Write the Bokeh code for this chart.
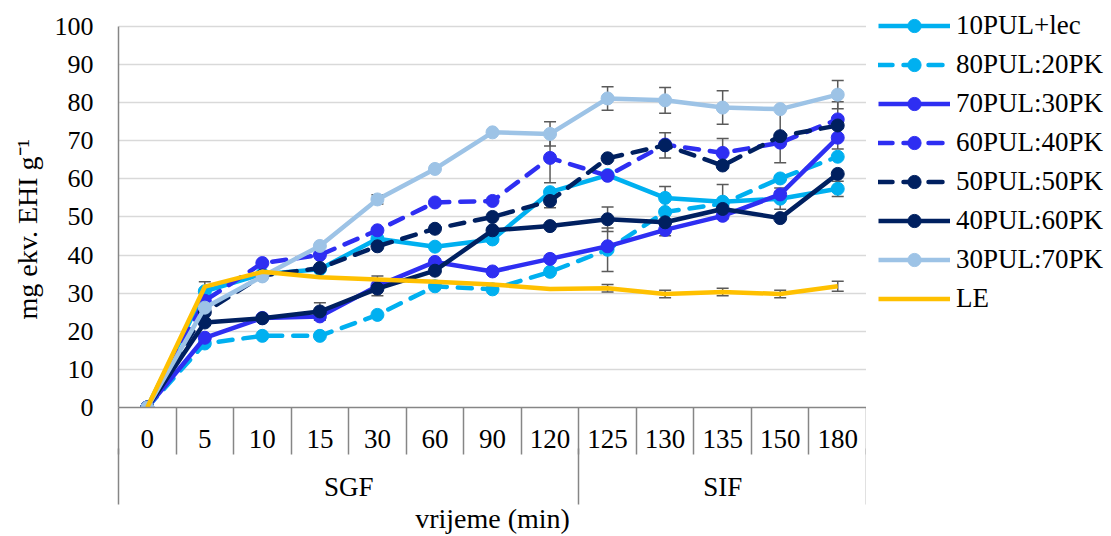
from bokeh.plotting import figure
from bokeh.layouts import row
from bokeh.models import (Range1d, LinearAxis, FixedTicker, Legend, LegendItem,
                          Whisker, TeeHead, ColumnDataSource, Grid, Title)
from bokeh.embed import file_html
from bokeh.resources import INLINE

# ---------------- data ----------------
categories = ["0", "5", "10", "15", "30", "60", "90", "120", "125", "130", "135", "150", "180"]
groups = ["SGF", "SIF"]
group_sizes = [8, 5]

series_names = ["10PUL+lec", "80PUL:20PK", "70PUL:30PK", "60PUL:40PK",
                "50PUL:50PK", "40PUL:60PK", "30PUL:70PK", "LE"]

v_10PUL_lec = [0, 30.5, 35.0, 36.3, 44.3, 42.2, 44.1, 56.5, 61.0, 55.0, 54.0, 54.8, 57.4]
v_80PUL_20PK = [0, 16.8, 18.8, 18.8, 24.3, 31.8, 31.0, 35.6, 41.4, 51.3, 53.5, 60.1, 65.8]
v_70PUL_30PK = [0, 18.3, 23.5, 23.9, 31.9, 38.2, 35.7, 39.0, 42.3, 46.6, 50.3, 55.9, 70.8]
v_60PUL_40PK = [0, 28.0, 37.9, 40.0, 46.5, 53.8, 54.2, 65.5, 60.8, 69.0, 66.8, 69.5, 75.6]
v_50PUL_50PK = [0, 25.0, 34.6, 36.6, 42.3, 46.9, 50.0, 54.2, 65.4, 68.8, 63.5, 71.2, 74.0]
v_40PUL_60PK = [0, 22.3, 23.4, 25.2, 31.2, 35.9, 46.5, 47.6, 49.4, 48.6, 52.1, 49.7, 61.3]
v_30PUL_70PK = [0, 26.2, 34.4, 42.4, 54.6, 62.6, 72.2, 71.8, 81.1, 80.6, 78.7, 78.3, 82.1]
v_LE = [0, 31.7, 35.6, 34.2, 33.6, 33.0, 32.3, 31.1, 31.3, 29.8, 30.3, 29.8, 31.8]

e_10PUL_lec = [0, 0, 0, 0, 0, 0, 0, 0, 0, 3.0, 4.5, 2.8, 2.0]
e_80PUL_20PK = [0, 0, 0, 0, 0, 0, 0, 0, 5.7, 0, 0, 0, 0]
e_70PUL_30PK = [0, 0, 0, 0, 2.6, 0, 0, 0, 0, 1.5, 0, 0, 0]
e_60PUL_40PK = [0, 0, 0, 0, 0, 0, 0, 6.5, 0, 0, 3.8, 0, 0]
e_50PUL_50PK = [0, 0, 0, 0, 0, 0, 0, 1.8, 0, 3.3, 0, 7.0, 6.2]
e_40PUL_60PK = [0, 0, 0, 2.3, 0, 0, 0, 0, 3.2, 0, 0, 0, 0]
e_30PUL_70PK = [0, 0, 0, 0, 1.2, 0, 0, 3.2, 3.1, 3.4, 4.4, 0, 3.7]
e_LE = [0, 1.3, 0, 0, 0, 0, 0, 0, 1.0, 1.0, 1.0, 1.0, 1.3]

y_ticks = [0, 10, 20, 30, 40, 50, 60, 70, 80, 90, 100]
x_title = "vrijeme (min)"
y_title = "mg ekv. EHI g\u207b\u00b9"

# ---------------- styles ----------------
values = [v_10PUL_lec, v_80PUL_20PK, v_70PUL_30PK, v_60PUL_40PK,
          v_50PUL_50PK, v_40PUL_60PK, v_30PUL_70PK, v_LE]
errors = [e_10PUL_lec, e_80PUL_20PK, e_70PUL_30PK, e_60PUL_40PK,
          e_50PUL_50PK, e_40PUL_60PK, e_30PUL_70PK, e_LE]
colors = ["#00B0F0", "#00B0F0", "#2E2EF2", "#2E2EF2",
          "#002060", "#002060", "#9DC3E6", "#FFC000"]
dashes = ["solid", "14 11", "solid", "14 11", "14 11", "solid", "solid", "solid"]
markers = [True, True, True, True, True, True, True, False]

FONT = "Liberation Serif"
AXIS_GRAY = "#868686"
LW = 4.5
MS = 13

n = len(categories)
xs = [i + 0.5 for i in range(n)]

p = figure(width=866, height=536, x_range=Range1d(0, n), y_range=Range1d(0, 106.8),
           output_backend="svg", toolbar_location=None,
           x_axis_type=None, y_axis_type=None,
           min_border_left=116, min_border_right=0, min_border_top=0, min_border_bottom=128)
p.outline_line_color = None
p.background_fill_color = "white"

# grid
grid = Grid(dimension=1, ticker=FixedTicker(ticks=y_ticks[1:]),
            grid_line_color="#D9D9D9", grid_line_width=1.5)
p.add_layout(grid)

# y axis
yaxis = LinearAxis(ticker=FixedTicker(ticks=y_ticks), bounds=(0, 100))
yaxis.axis_line_color = AXIS_GRAY
yaxis.axis_line_width = 1.5
yaxis.major_tick_out = 0
yaxis.major_tick_in = 0
yaxis.minor_tick_line_color = None
yaxis.major_label_standoff = 25
yaxis.major_label_text_font = FONT
yaxis.major_label_text_font_size = "26px"
yaxis.major_label_text_color = "black"
p.add_layout(yaxis, "left")

# y axis title (placed along the axis like the reference)
p.add_layout(Title(text=y_title, align="left", offset=88, standoff=18,
                   text_font=FONT, text_font_size="28px", text_font_style="normal",
                   text_color="black"), "left")

# x axis: categories
bounds_ticks = list(range(n + 1))
xaxis = LinearAxis(ticker=FixedTicker(ticks=xs, minor_ticks=bounds_ticks))
xaxis.major_label_overrides = {x: c for x, c in zip(xs, categories)}
xaxis.axis_line_color = AXIS_GRAY
xaxis.axis_line_width = 1.5
xaxis.major_tick_out = 0
xaxis.major_tick_in = 0
xaxis.minor_tick_out = 47
xaxis.minor_tick_in = 0
xaxis.minor_tick_line_color = AXIS_GRAY
xaxis.minor_tick_line_width = 1.5
xaxis.major_label_standoff = -25
xaxis.major_label_text_font = FONT
xaxis.major_label_text_font_size = "27px"
xaxis.major_label_text_color = "black"
p.add_layout(xaxis, "below")

# x axis: groups (with the axis title)
g_edges = [0]
for s in group_sizes:
    g_edges.append(g_edges[-1] + s)
g_centers = [(g_edges[i] + g_edges[i + 1]) / 2 for i in range(len(groups))]
gaxis = LinearAxis(ticker=FixedTicker(ticks=g_centers, minor_ticks=g_edges))
gaxis.major_label_overrides = {c: g for c, g in zip(g_centers, groups)}
gaxis.axis_line_color = None
gaxis.major_tick_out = 0
gaxis.major_tick_in = 0
gaxis.minor_tick_out = 54
gaxis.minor_tick_in = 2
gaxis.minor_tick_line_color = AXIS_GRAY
gaxis.minor_tick_line_width = 1.5
gaxis.major_label_standoff = -33
gaxis.major_label_text_font = FONT
gaxis.major_label_text_font_size = "27px"
gaxis.major_label_text_color = "black"
gaxis.axis_label = x_title
gaxis.axis_label_text_font = FONT
gaxis.axis_label_text_font_size = "28px"
gaxis.axis_label_text_font_style = "normal"
gaxis.axis_label_text_color = "black"
gaxis.axis_label_standoff = -2
p.add_layout(gaxis, "below")

# error bars
for vals, errs in zip(values, errors):
    bx = [x for x, e in zip(xs, errs) if e > 0]
    up = [v + e for v, e in zip(vals, errs) if e > 0]
    lo = [v - e for v, e in zip(vals, errs) if e > 0]
    if not bx:
        continue
    src = ColumnDataSource(dict(x=bx, upper=up, lower=lo))
    w = Whisker(source=src, base="x", upper="upper", lower="lower",
                line_color="#5A5A5A", line_width=1.5,
                upper_head=TeeHead(size=12, line_color="#5A5A5A", line_width=1.5),
                lower_head=TeeHead(size=12, line_color="#5A5A5A", line_width=1.5),
                level="underlay")
    p.add_layout(w)

# series
sources = []
for name, vals, col, dash, mk in zip(series_names, values, colors, dashes, markers):
    src = ColumnDataSource(dict(x=xs, y=vals))
    sources.append(src)
    p.line("x", "y", source=src, line_color=col, line_width=LW,
           line_dash=dash, line_cap="round" if dash != "solid" else "butt",
           line_join="round")
    if mk:
        p.scatter("x", "y", source=src, marker="circle", size=MS,
                  fill_color=col, line_color=col)

# ---------------- legend panel (separate figure to the right) ----------------
# it shares the series sources; its ranges lie outside the data so only the legend shows
pl = figure(width=245, height=536, x_range=Range1d(-2, -1), y_range=Range1d(0, 100),
            output_backend="svg", toolbar_location=None,
            x_axis_type=None, y_axis_type=None,
            min_border_left=0, min_border_right=0, min_border_top=0, min_border_bottom=128)
pl.outline_line_color = None
pl.xgrid.visible = False
pl.ygrid.visible = False

items = []
for name, src, col, dash, mk in zip(series_names, sources, colors, dashes, markers):
    rs = [pl.line("x", "y", source=src, line_color=col, line_width=LW,
                  line_dash=dash, line_cap="round" if dash != "solid" else "butt")]
    if mk:
        rs.append(pl.scatter("x", "y", source=src, marker="circle", size=MS,
                             fill_color=col, line_color=col))
    items.append(LegendItem(label=name, renderers=rs))

legend = Legend(items=items, location=(12, 92), margin=0, padding=0,
                spacing=6, glyph_width=72, glyph_height=33, label_height=33,
                label_standoff=6, border_line_color=None, background_fill_alpha=0,
                label_text_font=FONT, label_text_font_size="27px",
                label_text_color="black")
pl.add_layout(legend)

layout = row(p, pl, spacing=0)
open("out.html", "w").write(file_html(layout, INLINE))
